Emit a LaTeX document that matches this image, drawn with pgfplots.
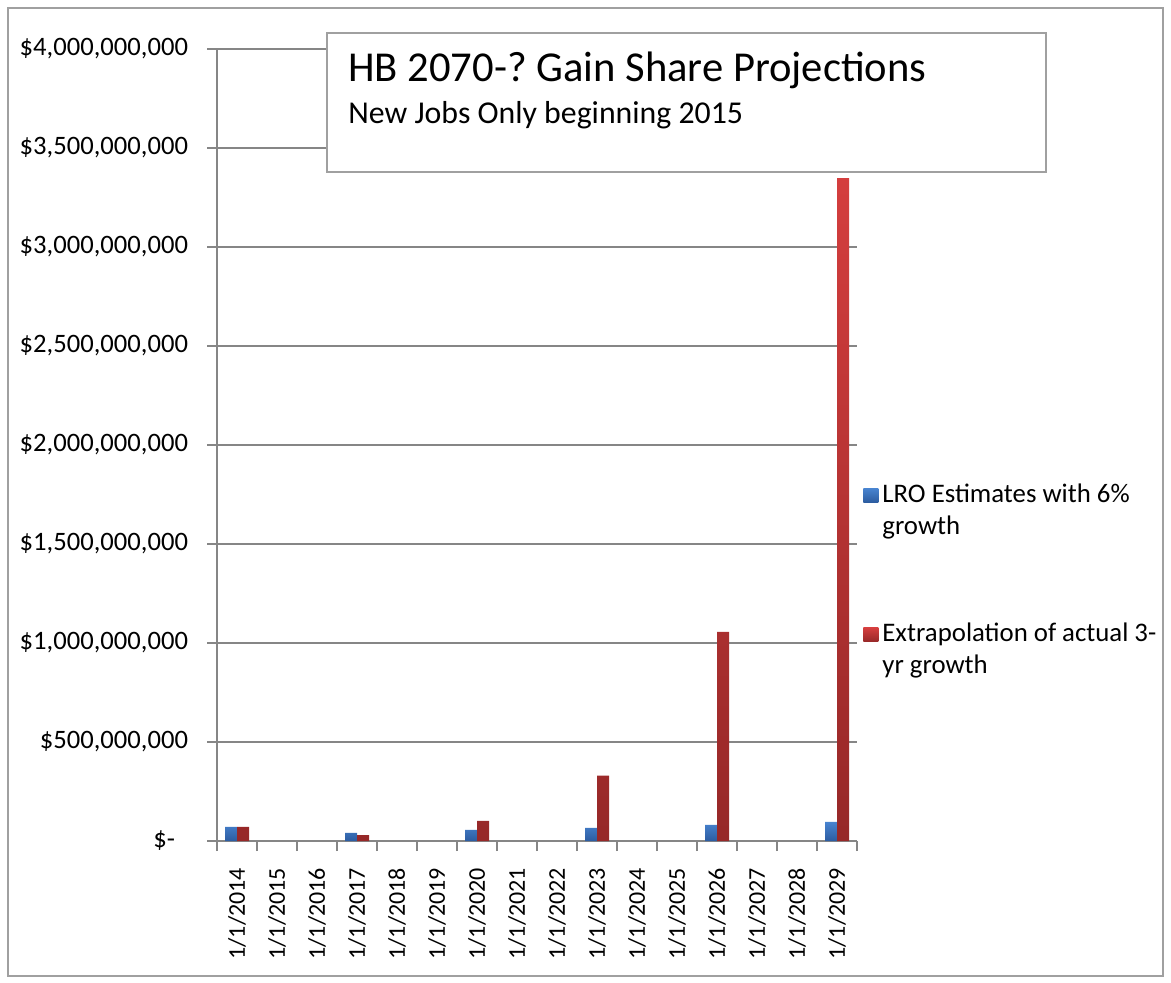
\documentclass[border=0pt]{standalone}
\usepackage{fontspec}
\setmainfont{Carlito}
\usepackage{pgfplots}
\pgfplotsset{compat=1.18}
\definecolor{gridgray}{RGB}{134,134,134}
\definecolor{boxgray}{RGB}{160,160,160}
\definecolor{bluetop}{RGB}{72,132,208}
\definecolor{bluebot}{RGB}{44,92,160}
\definecolor{redtop}{RGB}{212,62,62}
\definecolor{redbot}{RGB}{150,40,40}
\begin{document}
\begin{tikzpicture}
\useasboundingbox (0,0) rectangle (585.5pt,-491.5pt);
\draw[boxgray, line width=0.6pt] (4pt,-4pt) rectangle (581.5pt,-488pt);
\begin{axis}[
  at={(108.5pt,-420.5pt)}, anchor=south west,
  scale only axis, width=320pt, height=396pt,
  ybar=0pt, bar width=6pt,
  xmin=-0.5, xmax=15.5, ymin=0, ymax=4e9,
  scaled y ticks=false,
  axis x line*=bottom, axis y line*=left,
  axis line style={gridgray, line width=0.75pt},
  ytick={0,5e8,1e9,1.5e9,2e9,2.5e9,3e9,3.5e9,4e9},
  yticklabels={\$-\rule{6.5pt}{0pt},{\$500,000,000},{\$1,000,000,000},{\$1,500,000,000},{\$2,000,000,000},{\$2,500,000,000},{\$3,000,000,000},{\$3,500,000,000},{\$4,000,000,000}},
  ymajorgrids, grid style={gridgray, line width=0.75pt},
  tick align=outside, major tick length=5pt,
  tick style={gridgray, line width=0.75pt},
  xtick={-0.5,0.5,1.5,2.5,3.5,4.5,5.5,6.5,7.5,8.5,9.5,10.5,11.5,12.5,13.5,14.5,15.5},
  xticklabels={},
  extra x ticks={0,1,2,3,4,5,6,7,8,9,10,11,12,13,14,15},
  extra x tick labels={1/1/2014,1/1/2015,1/1/2016,1/1/2017,1/1/2018,1/1/2019,1/1/2020,1/1/2021,1/1/2022,1/1/2023,1/1/2024,1/1/2025,1/1/2026,1/1/2027,1/1/2028,1/1/2029},
  extra x tick style={major tick length=0pt, grid=none, tick label style={rotate=90, anchor=east, xshift=-10pt, font=\fontsize{12}{14}\selectfont}},
  yticklabel style={xshift=-6pt, font=\fontsize{13.3}{15}\selectfont},
  legend style={at={(1.0,0.462)}, anchor=north west, draw=none, fill=none,
    font=\fontsize{13.4}{16}\selectfont, cells={align=left, anchor=west}, row sep=39pt},
  legend image code/.code={\path[#1, draw=none] (-0.5pt,4pt) rectangle (7pt,11pt);},
  clip=false,
]
\addplot[draw=none, top color=bluetop, bottom color=bluebot] coordinates {(0,71e6) (3,41e6) (6,56e6) (9,66e6) (12,81e6) (15,97e6)};
\addlegendentry{LRO Estimates with 6\%\\growth}
\addplot[draw=none, top color=redtop, bottom color=redbot] coordinates {(0,71e6) (3,30e6) (6,102e6) (9,330e6) (12,1056e6) (15,3348e6)};
\addlegendentry{Extrapolation of actual 3-\\yr growth}
\end{axis}
\draw[boxgray, fill=white, line width=0.6pt] (163.5pt,-16.5pt) rectangle (523pt,-86pt);
\node[anchor=base west, inner sep=0pt, font=\fontsize{21.3}{24}\selectfont] at (174pt,-41pt) {HB 2070-?\ Gain Share Projections};
\node[anchor=base west, inner sep=0pt, font=\fontsize{15.9}{18}\selectfont] at (174pt,-61.7pt) {New Jobs Only beginning 2015};
\end{tikzpicture}
\end{document}
